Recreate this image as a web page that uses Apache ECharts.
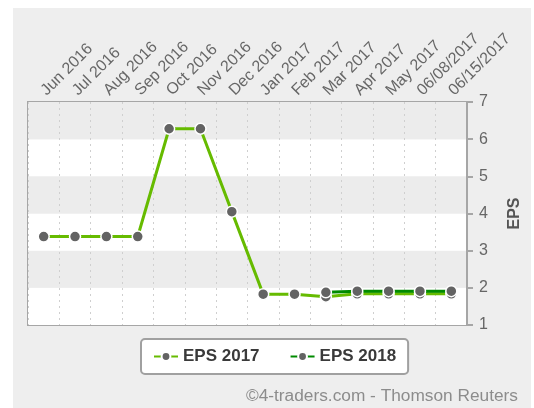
<!DOCTYPE html>
<html>
<head>
<meta charset="utf-8">
<script src="https://cdn.jsdelivr.net/npm/echarts@6/dist/echarts.min.js"></script>
<style>
  html, body { margin: 0; padding: 0; background: #fff; }
  #chart { width: 534px; height: 408px; }
</style>
</head>
<body>
<div id="chart"></div>
<script>
const categories = ['Jun 2016', 'Jul 2016', 'Aug 2016', 'Sep 2016', 'Oct 2016', 'Nov 2016', 'Dec 2016',
    'Jan 2017', 'Feb 2017', 'Mar 2017', 'Apr 2017', 'May 2017', '06/08/2017', '06/15/2017'];
const eps2017 = [3.38, 3.38, 3.38, 3.38, 6.28, 6.28, 4.05, 1.83, 1.83, 1.76, 1.84, 1.84, 1.84, 1.84];
const eps2018 = [null, null, null, null, null, null, null, null, null, 1.88, 1.91, 1.91, 1.91, 1.91];
const yTicks = [1, 2, 3, 4, 5, 6, 7];

const font = 'Liberation Sans, Arial, sans-serif';
const myChart = echarts.init(document.getElementById('chart'));

const lineSeries = (name, data, color) => ({
    name: name,
    type: 'line',
    data: data,
    symbol: 'circle',
    symbolSize: 11,
    showAllSymbol: true,
    connectNulls: false,
    lineStyle: { color: color, width: 3 },
    itemStyle: { color: '#636363', borderColor: '#fff', borderWidth: 1.5 },
    color: color,
    emphasis: { disabled: true },
});

const option = {
    animation: false,
    textStyle: { fontFamily: font },
    graphic: [
        {
            type: 'rect',
            z: -10,
            shape: { x: 13, y: 8, width: 518, height: 400 },
            style: { fill: '#eeeeee' },
        },
        {
            type: 'text',
            right: 16,
            top: 388,
            style: { text: '©4-traders.com - Thomson Reuters', fill: '#8c8c8c', font: '17.3px ' + font },
        },
    ],
    grid: {
        left: 28,
        right: 67,
        top: 102,
        height: 223,
        outerBoundsMode: 'none',
        containLabel: false,
        show: true,
        borderColor: '#a6a6a6',
        borderWidth: 2,
        backgroundColor: 'transparent',
    },
    legend: {
        left: 141,
        top: 339,
        padding: [9, 12, 9, 12],
        itemGap: 30,
        itemWidth: 24,
        itemHeight: 11,
        backgroundColor: '#fff',
        borderColor: '#a0a0a0',
        borderWidth: 2,
        borderRadius: 4,
        textStyle: { fontSize: 17, fontWeight: 'bold', color: '#3a3a3a', fontFamily: font },
        data: ['EPS 2017', 'EPS 2018'],
    },
    xAxis: {
        type: 'category',
        position: 'top',
        data: categories,
        boundaryGap: true,
        axisLine: { show: false },
        axisTick: { show: false },
        axisLabel: { rotate: -45, align: 'left', verticalAlign: 'middle', fontSize: 16, color: '#666', margin: 9, interval: 0 },
        splitLine: { show: true, interval: 0, lineStyle: { color: '#cfcfcf', type: [2, 4], width: 1 } },
    },
    yAxis: {
        type: 'value',
        position: 'right',
        min: yTicks[0],
        max: yTicks[yTicks.length - 1],
        interval: 1,
        name: 'EPS',
        nameLocation: 'middle',
        nameRotate: 90,
        nameGap: 40,
        nameTextStyle: { fontSize: 16, fontWeight: 'bold', color: '#555' },
        axisLine: { show: true, lineStyle: { color: '#a6a6a6', width: 2 } },
        axisTick: { show: true, length: 6, lineStyle: { color: '#a6a6a6', width: 2 } },
        axisLabel: { fontSize: 16, color: '#666', margin: 12 },
        splitLine: { show: false },
        splitArea: { show: true, areaStyle: { color: ['#ffffff', '#ececec'] } },
    },
    series: [
        lineSeries('EPS 2017', eps2017, '#66bb00'),
        lineSeries('EPS 2018', eps2018, '#008a00'),
    ],
};

myChart.setOption(option);
</script>
</body>
</html>
